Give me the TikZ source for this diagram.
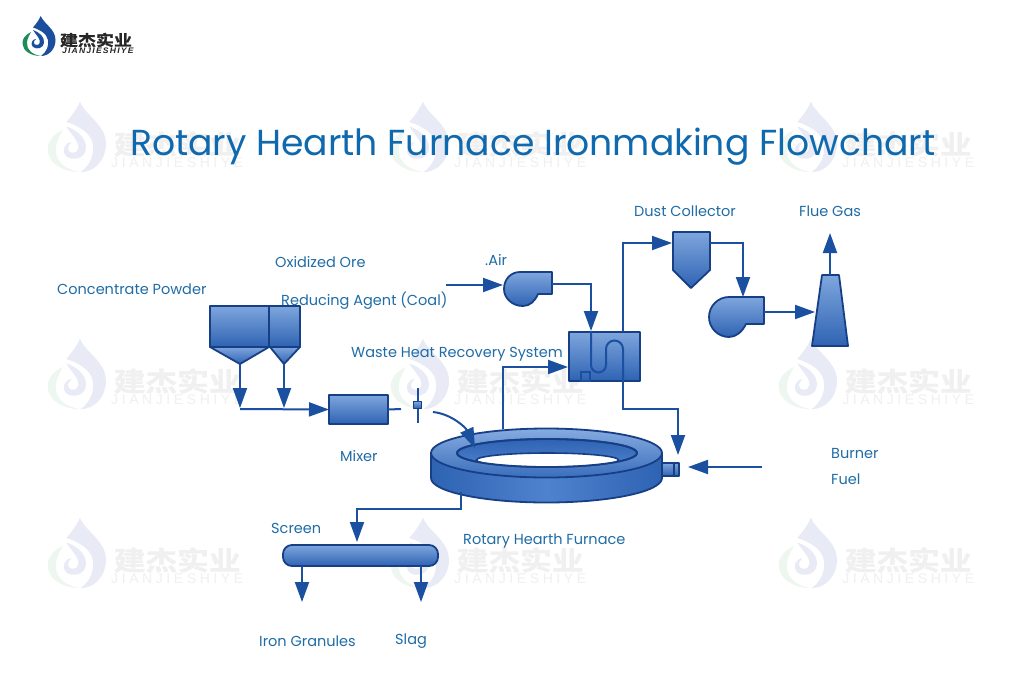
\documentclass[tikz,border=0pt]{standalone}
\usepackage{fontspec}
\usepackage{graphicx}
\usetikzlibrary{arrows.meta,calc}
\setmainfont{Poppins}
\newfontfamily\cjkb[FakeBold=1.2]{Noto Sans CJK SC Bold}
\newfontfamily\lsans{Liberation Sans}
\definecolor{linec}{HTML}{1B4F9F}
\definecolor{edgec}{HTML}{173F86}
\definecolor{txtc}{HTML}{1F6CA6}
\definecolor{titlec}{HTML}{0F69AE}
\definecolor{shtop}{HTML}{7FA6DD}
\definecolor{shbot}{HTML}{2E63B3}
\definecolor{logoblue}{HTML}{1B4E9C}
\definecolor{logogreen}{HTML}{1F8A5A}
\definecolor{ringmid}{HTML}{4F82CE}
\definecolor{ringtop}{HTML}{86ABE0}
\definecolor{ringbot}{HTML}{3A6EBC}
\definecolor{wmblue}{HTML}{E8EBF5}
\definecolor{wmgreen}{HTML}{EEF6F0}
\definecolor{wmtext}{HTML}{F0F0F0}
\newcommand{\brandmark}[8]{%
  \begin{scope}[shift={(#1,#2)},scale=#3,transform shape]
    \fill[#4] (18.7,1) .. controls (22,9) and (33.5,14) .. (33.5,25) .. controls (33.5,34) and (27,41) .. (19,41)
      .. controls (25,37) and (27,30) .. (26,25) .. controls (25,18) and (16,14) .. (11,12.5)
      .. controls (14,9) and (17,5) .. (18.7,1) -- cycle;
    \fill[#4] (11,15) .. controls (17,17) and (23,22) .. (22,28) .. controls (21.5,33) and (15,35) .. (11,32)
      .. controls (8,29) and (10,24) .. (14,24) .. controls (11,26) and (11,30) .. (15,30)
      .. controls (18,30) and (19,26) .. (16,22) .. controls (14,19) and (12,17) .. (11,15) -- cycle;
    \fill[#5] (9,17) .. controls (3,20) and (0,24) .. (0.5,29) .. controls (1,36) and (9,41) .. (19,41)
      .. controls (11,40) and (4.5,35) .. (5,28) .. controls (5,24) and (7,21) .. (9,17) -- cycle;
    \node[anchor=center,text=#6,inner sep=0pt] at (74,25)
      {\scalebox{1.2}[1]{\fontsize{15pt}{15pt}\selectfont\cjkb 建杰实业}};
    \node[anchor=center,text=#7,inner sep=0pt] at (74,35.5)
      {\resizebox{75pt}{5.6pt}{\lsans#8 JIANJIESHIYE}};
  \end{scope}}
\tikzset{
  x=1pt,y=-1pt,
  conn/.style={draw=linec,line width=2pt,line join=miter},
  flow/.style={conn,-{Triangle[length=20pt,width=14pt]}},
  eqp/.style={draw=edgec,line width=1.8pt,line join=round,top color=shtop,bottom color=shbot},
  boxn/.style={rectangle,eqp,inner sep=0pt,outer sep=0pt,minimum width=#1},
  lbl/.style={anchor=west,inner sep=0pt,text=txtc,font=\fontsize{14.5pt}{16pt}\selectfont},
  ttl/.style={anchor=west,inner sep=0pt,text=titlec,font=\fontsize{36.15pt}{40pt}\selectfont}
}
\begin{document}
\begin{tikzpicture}
\useasboundingbox (0,0) rectangle (1024,686);
\fill[white] (0,0) rectangle (1024,686);
% watermarks
\foreach \wx/\wy in {47/100,390/100,778/100,47/337,390/337,778/337,47/516,390/516,778/516}{
  \brandmark{\wx}{\wy}{1.76}{wmblue}{wmgreen}{wmtext}{wmtext}{\addfontfeature{LetterSpace=25}}
}
% logo
\brandmark{22}{15}{1}{logoblue}{logogreen}{black!85}{black!85}{\addfontfeature{LetterSpace=14}\bfseries\itshape}
% title
\node[ttl] (title) at (130,146.5) {Rotary Hearth Furnace Ironmaking Flowchart};
% labels
\node[lbl] (lconc) at (57,289.5) {Concentrate Powder};
\node[lbl] (lox) at (275,262.5) {Oxidized Ore};
\node[lbl] (lred) at (281,300.5) {Reducing Agent (Coal)};
\node[lbl] (lair) at (485,260.5) {.Air};
\node[lbl] (lwaste) at (351,354.5) {Waste Heat Recovery System};
\node[lbl] (ldust) at (634,211.5) {Dust Collector};
\node[lbl] (lflue) at (799,211.5) {Flue Gas};
\node[lbl] (lmix) at (340,456.5) {Mixer};
\node[lbl] (lburn) at (831,453.5) {Burner};
\node[lbl] (lfuel) at (831,479.5) {Fuel};
\node[lbl] (lscreen) at (271,528.5) {Screen};
\node[lbl] (lrhf) at (463,540.5) {Rotary Hearth Furnace};
\node[lbl] (liron) at (259,641.5) {Iron Granules};
\node[lbl] (lslag) at (395,641.5) {Slag};
% named connector points
\coordinate (hbigtip) at (240,364);
\coordinate (hsmalltip) at (284,364);
\coordinate (hbigend) at (240,408);
\coordinate (hsmallend) at (284,408);
\coordinate (mixstart) at (240,409);
\coordinate (mixstub) at (401,409);
\coordinate (charge) at (433,412);
\coordinate (chargeend) at (475,448);
\coordinate (airin) at (446,285);
\coordinate (airend) at (503,285);
\coordinate (blow1out) at (552,284);
\coordinate (blow1cnr) at (591,284);
\coordinate (hxin) at (591,331);
\coordinate (hxtop) at (623,332);
\coordinate (hxwest) at (568,367);
\coordinate (dustin) at (672,243);
\coordinate (dustout) at (710,243);
\coordinate (blow2in) at (743,297);
\coordinate (blow2out) at (764,312);
\coordinate (stackin) at (815,312);
\coordinate (stacktop) at (830,275);
\coordinate (flueend) at (830,233);
\coordinate (rhfflue) at (503,429);
\coordinate (rhfout) at (461,492);
\coordinate (scrcnr) at (357,509);
\coordinate (scrin) at (357,542);
\coordinate (fuelin) at (762,467);
\coordinate (fuelend) at (688,467);
\coordinate (hxbot) at (623,381);
\coordinate (burnbend) at (623,409);
\coordinate (burnin) at (678,455);
\coordinate (iron) at (302,602);
\coordinate (slag) at (421,602);
% hoppers
\draw[eqp] (210,306) rectangle (269,347);
\draw[eqp] (269,306) rectangle (300,347);
\draw[eqp] (210,347) -- (269,347) -- (hbigtip) -- cycle;
\draw[eqp] (270,347) -- (300,347) -- (hsmalltip) -- cycle;
% mixer
\node[boxn=59pt,minimum height=29pt] (mixer) at (358.5,409.5) {};
% valve
\node[rectangle,eqp,inner sep=0pt,outer sep=0pt,minimum width=8pt,minimum height=7pt] (valve) at (417.5,405) {};
\coordinate (valvetop) at (418,388);
\coordinate (valvebot) at (418,423);
\draw[conn] (valvetop) -- (valve.north -| valvetop) (valve.south -| valvebot) -- (valvebot);
% heat exchanger
\node[boxn=71pt,minimum height=49pt] (hx) at (604.5,356.5) {};
\node[rectangle,draw=linec,line width=1.5pt,inner sep=0pt,outer sep=0pt,minimum width=9pt,minimum height=9pt] (hxsmall) at (585.5,376.5) {};
% blower 1
\draw[eqp] (520,272) -- (552,272) -- (552,294) -- (538,294)
  .. controls (535,301) and (530,306) .. (523,306)
  .. controls (512,306) and (504,298) .. (504,289)
  .. controls (504,279) and (511,272) .. (520,272) -- cycle;
% dust collector
\draw[eqp] (673,232) -- (710,232) -- (710,270) -- (691,288) -- (673,270) -- cycle;
% blower 2
\draw[eqp] (729,297) -- (764,297) -- (764,324) -- (746,324)
  .. controls (742,332) and (736,337) .. (729,337)
  .. controls (718,337) and (709,328) .. (709,317)
  .. controls (709,306) and (718,297) .. (729,297) -- cycle;
% stack
\draw[eqp] (822,275) -- (839,275) -- (848,346) -- (812,346) -- cycle;
% burner
\node[rectangle,eqp,inner sep=0pt,outer sep=0pt,minimum width=17pt,minimum height=13pt] (burner) at (670.5,469.5) {};
\draw[edgec,line width=1.5pt] (674,463) -- (674,476);
% furnace
\draw[draw=edgec,line width=1.8pt,left color=shbot,right color=shbot,middle color=ringmid]
  (431,453) -- (431,478) arc[start angle=180,end angle=360,x radius=115.5pt,y radius=24.5pt] -- (662,453) -- cycle;
\draw[eqp,top color=ringtop,bottom color=ringbot] (546.5,453) ellipse[x radius=115.5pt,y radius=24.5pt];
\draw[eqp,top color=shbot,bottom color=ringmid] (547,453) ellipse[x radius=90pt,y radius=14pt];
\begin{scope}
  \clip (547,453) ellipse[x radius=90pt,y radius=14pt];
  \draw[draw=edgec,line width=1.6pt,fill=white] (547.5,460) ellipse[x radius=71pt,y radius=7pt];
\end{scope}
\draw[draw=edgec,line width=1.8pt] (547,453) ellipse[x radius=90pt,y radius=14pt];
% screen
\node[rectangle,eqp,rounded corners=9pt,inner sep=0pt,outer sep=0pt,minimum width=155pt,minimum height=21pt] (screen) at (360.5,555.5) {};
% connectors
\draw[flow] (hbigtip) -- (hbigend);
\draw[flow] (hsmalltip) -- (hsmallend);
\draw[flow] (mixstart) -- (mixer.west);
\draw[conn] (mixer.east) -- (mixstub);
\draw[flow] (charge) .. controls (452,414) and (466,428) .. (chargeend);
\draw[flow] (airin) -- (airend);
\draw[flow] (blow1out) -- (blow1cnr) -- (hxin);
\draw[flow] (hxtop) |- (dustin);
\draw[flow] (dustout) -| (blow2in);
\draw[flow] (blow2out) -- (stackin);
\draw[flow] (stacktop) -- (flueend);
\draw[flow] (rhfflue) |- (hxwest);
\draw[flow] (rhfout) |- (scrcnr) -- (scrin);
\draw[flow] (screen.south -| iron) -- (iron);
\draw[flow] (screen.south -| slag) -- (slag);
\draw[flow] (hxbot) -- (burnbend) -| (burnin);
\draw[flow] (fuelin) -- (fuelend);
% heat exchanger coil
\draw[conn] (hxin) -- (591,365) arc[start angle=180,end angle=360,radius=7.5pt] -- (606,349) arc[start angle=180,end angle=0,radius=8.5pt] -- (hxbot);
\end{tikzpicture}
\end{document}
